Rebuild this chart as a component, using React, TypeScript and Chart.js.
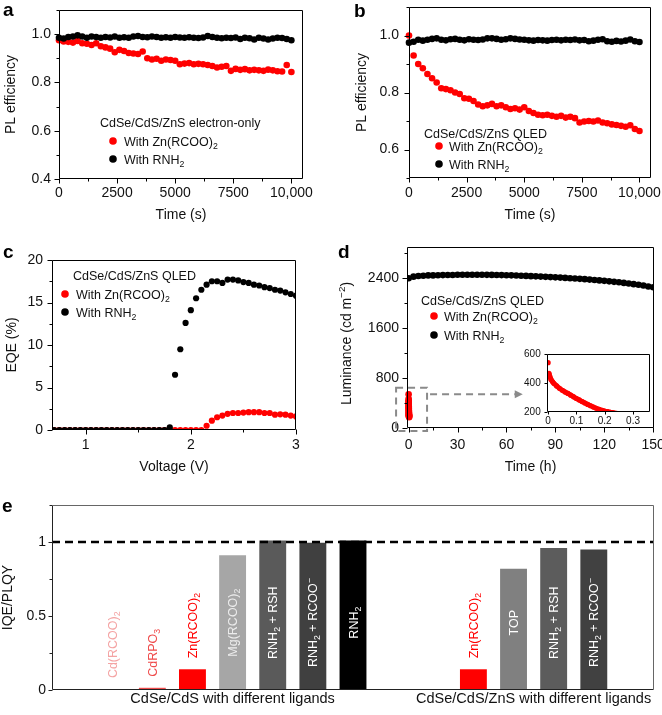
import React, { useEffect, useRef } from 'react';
import { Chart, registerables } from 'chart.js';

Chart.register(...registerables);

const FONT = '"Liberation Sans", Arial, Helvetica, sans-serif';
Chart.defaults.font.family = FONT;
Chart.defaults.font.size = 14;
Chart.defaults.color = '#111111';

const RED = '#ff0000';
const BLACK = '#000000';
const TEXT = '#111111';
const DASH_GRAY = '#8a8a8a';

// ---------- panels a / b : PL efficiency vs time ----------
const timeS = [0, 200, 400, 600, 800, 1000, 1200, 1400, 1600, 1800, 2000, 2200, 2400, 2600, 2800, 3000, 3200, 3400, 3600, 3800, 4000, 4200, 4400, 4600, 4800, 5000, 5200, 5400, 5600, 5800, 6000, 6200, 6400, 6600, 6800, 7000, 7200, 7400, 7600, 7800, 8000, 8200, 8400, 8600, 8800, 9000, 9200, 9400, 9600, 9800, 10000];
const plA_Zn = [0.975, 0.970, 0.968, 0.965, 0.972, 0.962, 0.960, 0.955, 0.962, 0.950,
  0.945, 0.940, 0.925, 0.935, 0.930, 0.922, 0.920, 0.918, 0.928, 0.900,
  0.895, 0.898, 0.890, 0.895, 0.893, 0.890, 0.875, 0.878, 0.880, 0.875,
  0.877, 0.875, 0.872, 0.868, 0.862, 0.865, 0.868, 0.848, 0.856, 0.852,
  0.855, 0.850, 0.852, 0.850, 0.848, 0.853, 0.850, 0.846, 0.845, 0.872, 0.843];
const plA_RNH2 = [0.985, 0.982, 0.988, 0.990, 0.995, 0.990, 0.985, 0.990, 0.988, 0.985,
  0.988, 0.986, 0.990, 0.985, 0.987, 0.985, 0.990, 0.992, 0.988, 0.987,
  0.990, 0.988, 0.985, 0.987, 0.985, 0.988, 0.986, 0.985, 0.987, 0.985,
  0.984, 0.986, 0.992, 0.988, 0.985, 0.983, 0.985, 0.984, 0.986, 0.980,
  0.985, 0.983, 0.978, 0.985, 0.982, 0.978, 0.982, 0.985, 0.984, 0.980, 0.975];
const plB_Zn = [1.000, 0.930, 0.900, 0.885, 0.865, 0.850, 0.835, 0.815, 0.812, 0.808,
  0.800, 0.795, 0.780, 0.778, 0.770, 0.758, 0.752, 0.755, 0.760, 0.752,
  0.755, 0.748, 0.742, 0.745, 0.740, 0.748, 0.735, 0.728, 0.722, 0.720,
  0.722, 0.718, 0.715, 0.718, 0.712, 0.715, 0.710, 0.695, 0.698, 0.700,
  0.698, 0.702, 0.695, 0.692, 0.688, 0.686, 0.683, 0.680, 0.685, 0.672, 0.665];
const plB_RNH2 = [0.975, 0.978, 0.985, 0.982, 0.985, 0.988, 0.990, 0.985, 0.983, 0.987,
  0.988, 0.985, 0.983, 0.987, 0.985, 0.984, 0.986, 0.990, 0.990, 0.988,
  0.985, 0.987, 0.990, 0.988, 0.986, 0.985, 0.983, 0.982, 0.984, 0.983,
  0.982, 0.984, 0.985, 0.983, 0.985, 0.984, 0.986, 0.983, 0.984, 0.980,
  0.982, 0.985, 0.987, 0.980, 0.978, 0.981, 0.979, 0.982, 0.986, 0.980, 0.977];
const ticksTimeS = [0, 2500, 5000, 7500, 10000];
const ticksPLa = [0.4, 0.6, 0.8, 1.0];
const ticksPLb = [0.6, 0.8, 1.0];

// ---------- panel c : EQE vs voltage ----------
const voltage = [0.70, 0.75, 0.80, 0.85, 0.90, 0.95, 1.00, 1.05, 1.10, 1.15, 1.20, 1.25, 1.30, 1.35, 1.40, 1.45, 1.50, 1.55, 1.60, 1.65, 1.70, 1.75, 1.80, 1.85, 1.90, 1.95, 2.00, 2.05, 2.10, 2.15, 2.20, 2.25, 2.30, 2.35, 2.40, 2.45, 2.50, 2.55, 2.60, 2.65, 2.70, 2.75, 2.80, 2.85, 2.90, 2.95, 3.00];
const eqeRNH2 = [0, 0, 0, 0, 0, 0, 0, 0, 0, 0, 0, 0, 0, 0, 0, 0, 0, 0, 0, 0, 0, 0,
  0.3, 6.5, 9.5, 12.6, 14.1, 15.5, 16.5, 17.1, 17.5, 17.5, 17.3, 17.7, 17.7, 17.6, 17.4, 17.3, 17.1, 17.0, 16.8, 16.7, 16.5, 16.4, 16.2, 16.0, 15.8];
const eqeZn = [0, 0, 0, 0, 0, 0, 0, 0, 0, 0, 0, 0, 0, 0, 0, 0, 0, 0, 0, 0, 0, 0, 0, 0, 0, 0, 0, 0, 0,
  0.5, 1.1, 1.5, 1.7, 1.9, 2.0, 2.0, 2.05, 2.1, 2.1, 2.1, 2.0, 2.0, 1.8, 1.85, 1.8, 1.7, 1.6];
const ticksVolt = [1, 2, 3];
const ticksEQE = [0, 5, 10, 15, 20];

// ---------- panel d : luminance vs time ----------
const timeH = [0, 3, 6, 9, 12, 15, 18, 21, 24, 27, 30, 33, 36, 39, 42, 45, 48, 51, 54, 57, 60, 63, 66, 69, 72, 75, 78, 81, 84, 87, 90, 93, 96, 99, 102, 105, 108, 111, 114, 117, 120, 123, 126, 129, 132, 135, 138, 141, 144, 147, 150];
const lumRNH2 = [2400, 2425, 2435, 2440, 2445, 2445, 2448, 2450, 2452, 2452,
  2455, 2455, 2456, 2456, 2455, 2455, 2454, 2453, 2452, 2450,
  2448, 2446, 2444, 2440, 2437, 2433, 2430, 2426, 2422, 2418,
  2414, 2410, 2405, 2400, 2395, 2390, 2385, 2378, 2372, 2365,
  2358, 2350, 2342, 2335, 2325, 2315, 2305, 2295, 2282, 2268, 2255];
const timeHZn = [0, 0.003, 0.006, 0.01, 0.015, 0.02, 0.03, 0.04, 0.05, 0.06, 0.07, 0.08, 0.09, 0.10, 0.11, 0.12, 0.13, 0.14, 0.15, 0.16, 0.17, 0.18, 0.19, 0.20, 0.21, 0.22, 0.23, 0.25, 0.27, 0.29];
const lumZn = [540, 467, 445, 425, 410, 398, 380, 363, 350, 338, 328, 316, 305, 293, 283, 272, 262, 252, 243, 234, 226, 219, 212, 206, 202, 198, 195, 188, 180, 172];
const ticksTimeH = [0, 30, 60, 90, 120, 150];
const ticksLum = [0, 800, 1600, 2400];
const ticksInsetX = [0, 0.1, 0.2, 0.3];
const ticksInsetY = [200, 400, 600];
const zoomBoxX = [-7.7, 11.3];
const zoomBoxY = [-50, 645];
const arrowY = 540;
const arrowEndX = 70;

// ---------- panel e : IQE/PLQY bars ----------
const ligandLabels = ['', 'Cd(RCOO)_2', 'CdRPO_3', 'Zn(RCOO)_2', 'Mg(RCOO)_2', 'RNH_2 + RSH', 'RNH_2 + RCOO^\u2212', 'RNH_2', '', '', 'Zn(RCOO)_2', 'TOP', 'RNH_2 + RSH', 'RNH_2 + RCOO^\u2212', ''];
const iqeValues = [null, 0.006, 0.015, 0.14, 0.91, 1.01, 0.995, 1.01, null, null, 0.14, 0.82, 0.96, 0.95, null];
const barColors = ['#ffffff', '#f4a3a3', '#ef4b4b', '#ff0000', '#a6a6a6', '#5a5a5a', '#404040', '#000000', '#ffffff', '#ffffff', '#ff0000', '#808080', '#5c5c5c', '#414141', '#ffffff'];
const labelColors = ['#fff', '#f4a3a3', '#ef4b4b', '#ff0000', '#ececec', '#ffffff', '#ffffff', '#ffffff', '#fff', '#fff', '#ff0000', '#ffffff', '#ffffff', '#ffffff', '#fff'];
const labelInside = [false, false, false, false, true, true, true, true, false, false, false, true, true, true, false];
const groupLabels = ['CdSe/CdS with different ligands', 'CdSe/CdS/ZnS with different ligands'];
const groupSlots = [[1, 7], [10, 13]];
const ticksIQE = [0, 0.5, 1];
const refLevel = 1;

const legendTitleA = 'CdSe/CdS/ZnS electron-only';
const legendTitleQLED = 'CdSe/CdS/ZnS QLED';
const seriesNames = ['With Zn(RCOO)_2', 'With RNH_2'];

// ---------- helpers ----------
const pts = (xs: number[], ys: number[]) => xs.map((x, i) => ({ x, y: ys[i] }));

function parseRich(s: string) {
  const segs: { t: string; k: number }[] = [];
  let cur = '';
  for (let i = 0; i < s.length; i++) {
    const c = s[i];
    if ((c === '_' || c === '^') && i + 1 < s.length) {
      if (cur) { segs.push({ t: cur, k: 0 }); cur = ''; }
      segs.push({ t: s[i + 1], k: c === '_' ? 1 : 2 });
      i++;
    } else cur += c;
  }
  if (cur) segs.push({ t: cur, k: 0 });
  return segs;
}

function drawRich(ctx: CanvasRenderingContext2D, s: string, x: number, y: number, size: number, color: string, align = 'left') {
  const segs = parseRich(s);
  const small = size * 0.7;
  let w = 0;
  for (const g of segs) { ctx.font = `${g.k ? small : size}px ${FONT}`; w += ctx.measureText(g.t).width; }
  let cx = align === 'center' ? x - w / 2 : x;
  const base = y + size * 0.36;
  ctx.save();
  ctx.fillStyle = color;
  ctx.textAlign = 'left';
  ctx.textBaseline = 'alphabetic';
  for (const g of segs) {
    ctx.font = `${g.k ? small : size}px ${FONT}`;
    const by = g.k === 1 ? base + size * 0.25 : g.k === 2 ? base - size * 0.42 : base;
    ctx.fillText(g.t, cx, by);
    cx += ctx.measureText(g.t).width;
  }
  ctx.restore();
}

function drawRichRot(ctx: CanvasRenderingContext2D, s: string, x: number, y: number, size: number, color: string, align = 'left') {
  ctx.save();
  ctx.translate(x, y);
  ctx.rotate(-Math.PI / 2);
  drawRich(ctx, s, 0, 0, size, color, align);
  ctx.restore();
}

function drawLetter(chart: any, letter: string, x: number, y: number) {
  const ctx = chart.ctx;
  ctx.save();
  ctx.font = `bold 19px ${FONT}`;
  ctx.fillStyle = '#000';
  ctx.textAlign = 'left';
  ctx.textBaseline = 'alphabetic';
  ctx.fillText(letter, x, y);
  ctx.restore();
}

function drawLegend(chart: any, L: any) {
  const { ctx, chartArea: ca } = chart;
  drawRich(ctx, L.title, ca.left + L.dx, ca.top + L.dy, 12.5, TEXT);
  for (const r of L.rows) {
    ctx.save();
    ctx.fillStyle = r.color;
    ctx.beginPath();
    ctx.arc(ca.left + L.dotDx, ca.top + r.dy, 3.8, 0, Math.PI * 2);
    ctx.fill();
    ctx.restore();
    drawRich(ctx, r.text, ca.left + L.textDx, ca.top + r.dy, 12.5, TEXT);
  }
}

const framePlugin: any = {
  id: 'frame',
  beforeDatasetsDraw(chart: any, _a: any, o: any) {
    if (!o || !o.bg) return;
    const { ctx, chartArea: ca } = chart;
    ctx.save();
    ctx.fillStyle = o.bg;
    ctx.fillRect(ca.left, ca.top, ca.right - ca.left, ca.bottom - ca.top);
    ctx.restore();
  },
  afterDraw(chart: any, _a: any, o: any) {
    const { ctx, chartArea: ca } = chart;
    const L = Math.round(ca.left) + 0.5, R = Math.round(ca.right) - 0.5;
    const T = Math.round(ca.top) + 0.5, B = Math.round(ca.bottom) - 0.5;
    ctx.save();
    ctx.lineWidth = 1;
    ctx.strokeStyle = o.color;
    for (const id of Object.keys(chart.scales)) {
      const sc = chart.scales[id];
      if (sc.type === 'category' || !sc.options.display) continue;
      for (const t of sc.ticks) {
        const len = t.label ? o.major : o.minor;
        const p = Math.round(sc.getPixelForValue(t.value)) + 0.5;
        ctx.beginPath();
        if (sc.isHorizontal()) { ctx.moveTo(p, B); ctx.lineTo(p, B + len); }
        else { ctx.moveTo(L, p); ctx.lineTo(L - len, p); }
        ctx.stroke();
      }
    }
    ctx.beginPath();
    ctx.moveTo(L, T); ctx.lineTo(L, B); ctx.lineTo(R, B);
    ctx.stroke();
    ctx.strokeStyle = o.side || o.color;
    ctx.beginPath();
    ctx.moveTo(L, T); ctx.lineTo(R, T); ctx.lineTo(R, B);
    ctx.stroke();
    ctx.restore();
  },
};

function axis(p: any) {
  const near = (v: number) => p.labels.find((l: number) => Math.abs(l - v) < p.step * 1e-3);
  return {
    type: 'linear',
    min: p.min,
    max: p.max,
    grid: { display: false, drawTicks: false },
    border: { display: false },
    ticks: {
      stepSize: p.step,
      includeBounds: false,
      autoSkip: false,
      maxRotation: 0,
      minRotation: 0,
      padding: p.labelPad,
      color: TEXT,
      font: { size: p.fontSize || 14 },
      callback: (v: number) => {
        const m = near(v);
        return m === undefined ? '' : p.fmt ? p.fmt(m) : String(m);
      },
    },
    // place ticks exactly on multiples of the step (minor + major positions)
    afterBuildTicks: (s: any) => {
      const out: { value: number }[] = [];
      const k0 = Math.ceil(p.min / p.step - 1e-9);
      for (let k = k0; k * p.step <= p.max + 1e-9; k++) out.push({ value: +(k * p.step).toFixed(6) });
      s.ticks = out;
    },
    title: p.title
      ? {
          display: true,
          text: p.title,
          color: TEXT,
          font: { size: 14 },
          padding: p.horizontal ? { top: 0, bottom: p.titlePad } : { top: p.titlePad, bottom: 0 },
        }
      : { display: false },
    afterFit: (s: any) => {
      if (p.horizontal) s.height = p.fit;
      else s.width = p.fit;
      s.paddingTop = 0; s.paddingBottom = 0; s.paddingLeft = 0; s.paddingRight = 0;
    },
  };
}

const baseOpts = (padding: any) => ({
  responsive: false,
  animation: false,
  events: [],
  layout: { padding },
});

const dot = (data: any, color: string, r: number, extra: any = {}) => ({
  data,
  backgroundColor: color,
  borderColor: color,
  pointRadius: r,
  pointBorderWidth: 0,
  pointHoverRadius: r,
  ...extra,
});

const fmtTime = (v: number) => (v >= 10000 ? v.toLocaleString('en-US') : String(v));
const fmt1 = (v: number) => v.toFixed(1);

// ---------- chart configs ----------
function makeA(): any {
  return {
    type: 'scatter',
    data: { datasets: [dot(pts(timeS, plA_RNH2), BLACK, 3.3, { clip: false }), dot(pts(timeS, plA_Zn), RED, 3.3, { clip: false })] },
    options: {
      ...baseOpts({ left: 0, top: 10, right: 28, bottom: 0 }),
      scales: {
        x: axis({ min: 0, max: 10500, step: 1250, labels: ticksTimeS, fmt: fmtTime, title: 'Time (s)', titlePad: 1.6, labelPad: 5.6, fit: 46, horizontal: true }),
        y: axis({ min: 0.4, max: 1.1, step: 0.1, labels: ticksPLa, fmt: fmt1, title: 'PL efficiency', titlePad: 2.6, labelPad: 8, fit: 59 }),
      },
      plugins: { legend: { display: false }, tooltip: { enabled: false }, frame: { color: BLACK, major: 5, minor: 3 } },
    },
    plugins: [
      framePlugin,
      {
        id: 'annA',
        afterDraw(chart: any) {
          drawLegend(chart, { dx: 41, dy: 112, title: legendTitleA, dotDx: 54, textDx: 65, rows: [{ color: RED, text: seriesNames[0], dy: 131 }, { color: BLACK, text: seriesNames[1], dy: 149 }] });
          drawLetter(chart, 'a', 3, 16);
        },
      },
    ],
  };
}

function makeB(): any {
  return {
    type: 'scatter',
    data: { datasets: [dot(pts(timeS, plB_RNH2), BLACK, 3.3, { clip: false }), dot(pts(timeS, plB_Zn), RED, 3.3, { clip: false })] },
    options: {
      ...baseOpts({ left: 0, top: 7, right: 11, bottom: 0 }),
      scales: {
        x: axis({ min: 0, max: 10500, step: 1250, labels: ticksTimeS, fmt: fmtTime, title: 'Time (s)', titlePad: 1.6, labelPad: 6.6, fit: 47, horizontal: true }),
        y: axis({ min: 0.5, max: 1.1, step: 0.1, labels: ticksPLb, fmt: fmt1, title: 'PL efficiency', titlePad: 22.6, labelPad: 10, fit: 78 }),
      },
      plugins: { legend: { display: false }, tooltip: { enabled: false }, frame: { color: BLACK, major: 5, minor: 3 } },
    },
    plugins: [
      framePlugin,
      {
        id: 'annB',
        afterDraw(chart: any) {
          drawLegend(chart, { dx: 15, dy: 126, title: legendTitleQLED, dotDx: 30, textDx: 40, rows: [{ color: RED, text: seriesNames[0], dy: 139 }, { color: BLACK, text: seriesNames[1], dy: 157 }] });
          drawLetter(chart, 'b', 23, 17);
        },
      },
    ],
  };
}

function makeC(): any {
  return {
    type: 'scatter',
    data: { datasets: [dot(pts(voltage, eqeRNH2), BLACK, 3.1), dot(pts(voltage, eqeZn), RED, 3.1)] },
    options: {
      ...baseOpts({ left: 0, top: 35, right: 35, bottom: 0 }),
      scales: {
        x: axis({ min: 0.68, max: 3.0, step: 0.5, labels: ticksVolt, title: 'Voltage (V)', titlePad: 4.6, labelPad: 6.6, fit: 50, horizontal: true }),
        y: axis({ min: 0, max: 20, step: 2.5, labels: ticksEQE, title: 'EQE (%)', titlePad: 3.6, labelPad: 9, fit: 52 }),
      },
      plugins: { legend: { display: false }, tooltip: { enabled: false }, frame: { color: BLACK, major: 5, minor: 3 } },
    },
    plugins: [
      framePlugin,
      {
        id: 'annC',
        afterDraw(chart: any) {
          drawLegend(chart, { dx: 21, dy: 15, title: legendTitleQLED, dotDx: 13, textDx: 24, rows: [{ color: RED, text: seriesNames[0], dy: 34 }, { color: BLACK, text: seriesNames[1], dy: 52 }] });
          drawLetter(chart, 'c', 3, 33);
        },
      },
    ],
  };
}

function makeD(): any {
  return {
    type: 'scatter',
    data: { datasets: [dot(pts(timeH, lumRNH2), BLACK, 3.3), dot(pts(timeHZn, lumZn), RED, 3.3, { clip: false })] },
    options: {
      ...baseOpts({ left: 0, top: 22, right: 8, bottom: 0 }),
      scales: {
        x: axis({ min: -1, max: 150.5, step: 15, labels: ticksTimeH, title: 'Time (h)', titlePad: 4.6, labelPad: 8.6, fit: 52, horizontal: true }),
        y: axis({ min: 0, max: 2900, step: 400, labels: ticksLum, labelPad: 8, fit: 76 }),
      },
      plugins: { legend: { display: false }, tooltip: { enabled: false }, frame: { color: BLACK, major: 5, minor: 3 } },
    },
    plugins: [
      framePlugin,
      {
        id: 'annD',
        beforeDatasetsDraw(chart: any) {
          const { ctx } = chart;
          const xs = chart.scales.x, ys = chart.scales.y;
          const x0 = xs.getPixelForValue(zoomBoxX[0]), x1 = xs.getPixelForValue(zoomBoxX[1]);
          const y0 = ys.getPixelForValue(zoomBoxY[0]), y1 = ys.getPixelForValue(zoomBoxY[1]);
          const ya = ys.getPixelForValue(arrowY), xa = xs.getPixelForValue(arrowEndX);
          ctx.save();
          ctx.strokeStyle = DASH_GRAY;
          ctx.lineWidth = 2;
          ctx.setLineDash([7, 5]);
          ctx.strokeRect(x0, y1, x1 - x0, y0 - y1);
          ctx.beginPath();
          ctx.moveTo(x1 + 3, ya);
          ctx.lineTo(xa - 8, ya);
          ctx.stroke();
          ctx.setLineDash([]);
          ctx.fillStyle = DASH_GRAY;
          ctx.beginPath();
          ctx.moveTo(xa, ya); ctx.lineTo(xa - 8, ya - 4); ctx.lineTo(xa - 8, ya + 4);
          ctx.closePath();
          ctx.fill();
          ctx.restore();
        },
        afterDraw(chart: any) {
          const ca = chart.chartArea;
          drawLegend(chart, { dx: 14, dy: 53, title: legendTitleQLED, dotDx: 27, textDx: 37, rows: [{ color: RED, text: seriesNames[0], dy: 69 }, { color: BLACK, text: seriesNames[1], dy: 88 }] });
          drawRichRot(chart.ctx, 'Luminance (cd m^\u2212^2)', 15, (ca.top + ca.bottom) / 2 + 6, 14, TEXT, 'center');
          drawLetter(chart, 'd', 7, 33);
        },
      },
    ],
  };
}

function makeInset(): any {
  return {
    type: 'scatter',
    data: {
      datasets: [
        dot(pts(timeHZn, lumZn), RED, 2.6),
        { data: pts(timeHZn.slice(1), lumZn.slice(1)), showLine: true, borderColor: RED, backgroundColor: RED, borderWidth: 5, pointRadius: 0, pointHoverRadius: 0 },
      ],
    },
    options: {
      ...baseOpts({ left: 0, top: 19, right: 12, bottom: 0 }),
      scales: {
        x: axis({ min: -0.004, max: 0.36, step: 0.1, labels: ticksInsetX, fmt: (v: number) => (v === 0 ? '0' : v.toFixed(1)), labelPad: 3.7, fit: 23, horizontal: true, fontSize: 10 }),
        y: axis({ min: 200, max: 600, step: 200, labels: ticksInsetY, labelPad: 6.3, fit: 47, fontSize: 10 }),
      },
      plugins: { legend: { display: false }, tooltip: { enabled: false }, frame: { color: BLACK, major: 3, minor: 2, bg: '#ffffff' } },
    },
    plugins: [framePlugin],
  };
}

function makeE(): any {
  return {
    type: 'bar',
    data: {
      labels: ligandLabels,
      datasets: [{ data: iqeValues, backgroundColor: barColors, borderWidth: 0, categoryPercentage: 1, barPercentage: 0.67 }],
    },
    options: {
      ...baseOpts({ left: 0, top: 25, right: 8, bottom: 25 }),
      scales: {
        x: { type: 'category', display: false, offset: true, grid: { display: false } },
        y: axis({ min: 0, max: 1.25, step: 0.25, labels: ticksIQE, title: 'IQE/PLQY', titlePad: 0, labelPad: 6, fit: 52 }),
      },
      plugins: { legend: { display: false }, tooltip: { enabled: false }, frame: { color: '#222222', side: '#666666', major: 4, minor: 3 } },
    },
    plugins: [
      framePlugin,
      {
        id: 'annE',
        afterDatasetsDraw(chart: any) {
          const { ctx, chartArea: ca } = chart;
          const xs = chart.scales.x, ys = chart.scales.y;
          ligandLabels.forEach((lab, i) => {
            if (!lab) return;
            const x = xs.getPixelForValue(i);
            if (labelInside[i]) drawRichRot(ctx, lab, x, ys.getPixelForValue(0.455), 12.5, labelColors[i], 'center');
            else drawRichRot(ctx, lab, x, ys.getPixelForValue(iqeValues[i] as number) - 11, 12.5, labelColors[i], 'left');
          });
          const yr = Math.round(ys.getPixelForValue(refLevel));
          ctx.save();
          ctx.strokeStyle = '#000';
          ctx.lineWidth = 2.3;
          ctx.setLineDash([8, 5]);
          ctx.beginPath();
          ctx.moveTo(ca.left, yr);
          ctx.lineTo(ca.right, yr);
          ctx.stroke();
          ctx.restore();
          groupLabels.forEach((g, k) => {
            const cx = (xs.getPixelForValue(groupSlots[k][0]) + xs.getPixelForValue(groupSlots[k][1])) / 2;
            drawRich(ctx, g, cx, ca.bottom + 8, 14.5, TEXT, 'center');
          });
        },
        afterDraw(chart: any) {
          drawLetter(chart, 'e', 2, 32);
        },
      },
    ],
  };
}

function ChartBox({ x, y, w, h, make }: { x: number; y: number; w: number; h: number; make: () => any }) {
  const ref = useRef<HTMLCanvasElement>(null);
  useEffect(() => {
    const chart = new Chart(ref.current as HTMLCanvasElement, make());
    return () => chart.destroy();
  }, []);
  return <canvas ref={ref} width={w} height={h} style={{ position: 'absolute', left: x, top: y, width: w, height: h }} />;
}

export default function App() {
  return (
    <div style={{ position: 'absolute', left: 0, top: 0, width: 662, height: 715, background: '#ffffff', overflow: 'hidden' }}>
      <ChartBox x={0} y={0} w={331} h={225} make={makeA} />
      <ChartBox x={331} y={0} w={331} h={225} make={makeB} />
      <ChartBox x={0} y={225} w={331} h={255} make={makeC} />
      <ChartBox x={331} y={225} w={331} h={255} make={makeD} />
      <ChartBox x={500} y={335} w={162} h={100} make={makeInset} />
      <ChartBox x={0} y={480} w={662} h={235} make={makeE} />
    </div>
  );
}
